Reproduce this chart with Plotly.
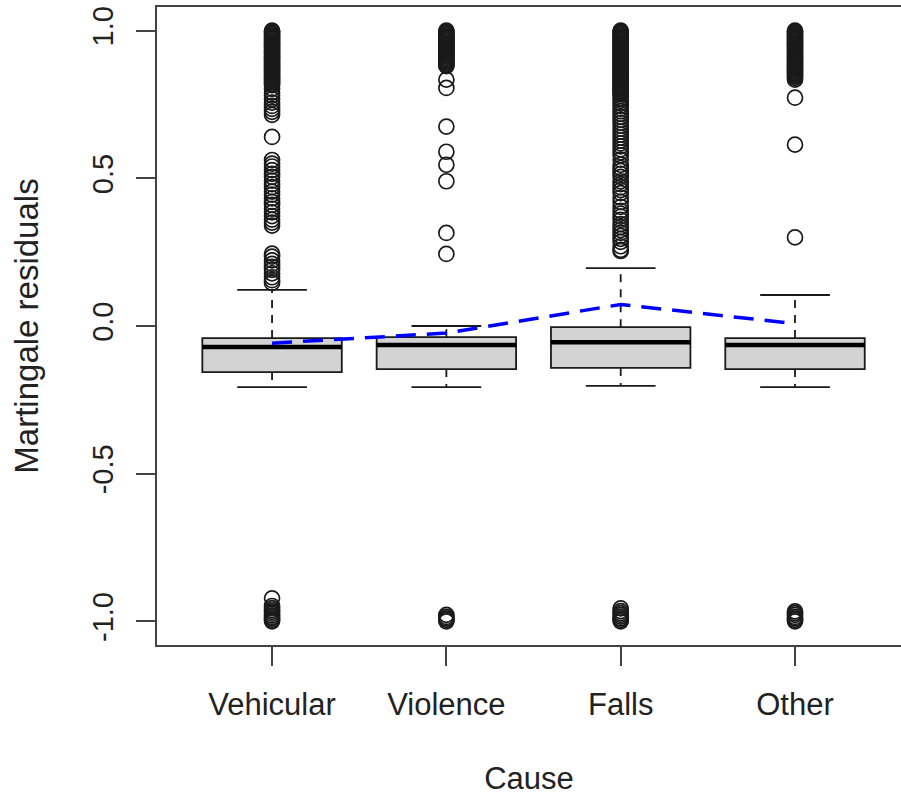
import plotly.graph_objects as go

# ---- data ----
categories = ["Vehicular", "Violence", "Falls", "Other"]
positions = [1, 2, 3, 4]

q1 = [-0.156, -0.146, -0.142, -0.146]
median = [-0.071, -0.064, -0.055, -0.064]
q3 = [-0.041, -0.038, -0.004, -0.041]
lower_whisker = [-0.207, -0.207, -0.203, -0.207]
upper_whisker = [0.122, 0.0, 0.196, 0.105]

group_means = [-0.058, -0.024, 0.073, 0.008]

outliers_vehicular = [
    1.0, 0.996, 0.992, 0.988, 0.984, 0.98, 0.976, 0.972, 0.968, 0.964, 0.96,
    0.956, 0.952, 0.948, 0.944, 0.94, 0.936, 0.932, 0.928, 0.924, 0.92, 0.916,
    0.912, 0.908, 0.904, 0.9, 0.896, 0.892, 0.888, 0.884, 0.88, 0.876, 0.872,
    0.868, 0.864, 0.86, 0.856, 0.852, 0.848, 0.844, 0.84, 0.836, 0.832, 0.828,
    0.824, 0.82, 0.815,
    0.803, 0.79, 0.78, 0.768, 0.756, 0.745, 0.735, 0.725, 0.715,
    0.64,
    0.562, 0.55, 0.54, 0.528, 0.515, 0.505, 0.492, 0.48, 0.47, 0.455, 0.445,
    0.432, 0.42, 0.41, 0.397, 0.385, 0.372, 0.36, 0.35, 0.34,
    0.245, 0.235, 0.222, 0.21, 0.2, 0.19, 0.178, 0.165, 0.155, 0.146,
    -0.922, -0.948, -0.955, -0.962, -0.968, -0.974, -0.98, -0.985, -0.99,
    -0.995, -1.0,
]
outliers_violence = [
    1.0, 0.996, 0.992, 0.988, 0.984, 0.98, 0.976, 0.972, 0.968, 0.964, 0.96,
    0.956, 0.952, 0.948, 0.944, 0.94, 0.936, 0.932, 0.928, 0.924, 0.92, 0.916,
    0.912, 0.908, 0.904, 0.9, 0.896, 0.892, 0.888, 0.884, 0.88,
    0.834, 0.806,
    0.675, 0.59, 0.546, 0.49, 0.315, 0.244,
    -0.978, -0.985, -0.99, -0.995, -1.0,
]
outliers_falls = [
    1.0, 0.996, 0.992, 0.988, 0.984, 0.98, 0.976, 0.972, 0.968, 0.964, 0.96,
    0.956, 0.952, 0.948, 0.944, 0.94, 0.936, 0.932, 0.928, 0.924, 0.92, 0.916,
    0.912, 0.908, 0.904, 0.9, 0.896, 0.892, 0.888, 0.884, 0.88, 0.876, 0.872,
    0.868, 0.864, 0.86, 0.856, 0.852, 0.848, 0.844, 0.84, 0.836, 0.832, 0.828,
    0.824, 0.82, 0.816, 0.812, 0.808, 0.804, 0.8, 0.796, 0.792, 0.788, 0.784,
    0.778,
    0.77, 0.762, 0.753, 0.745, 0.736, 0.727, 0.718, 0.708, 0.698, 0.688,
    0.678, 0.668, 0.658, 0.648, 0.638, 0.628, 0.618, 0.608, 0.598, 0.588,
    0.578, 0.563, 0.546, 0.535, 0.525, 0.515, 0.505, 0.49, 0.48, 0.47, 0.46,
    0.45, 0.435, 0.42, 0.403, 0.39, 0.38, 0.37, 0.359, 0.345, 0.335, 0.325,
    0.315, 0.305, 0.295, 0.285, 0.27, 0.258, 0.254,
    -0.956, -0.965, -0.972, -0.978, -0.984, -0.99, -0.995, -1.0,
]
outliers_other = [
    1.0, 0.996, 0.992, 0.988, 0.984, 0.98, 0.976, 0.972, 0.968, 0.964, 0.96,
    0.956, 0.952, 0.948, 0.944, 0.94, 0.936, 0.932, 0.928, 0.924, 0.92, 0.916,
    0.912, 0.908, 0.904, 0.9, 0.896, 0.892, 0.888, 0.884, 0.88, 0.876, 0.872,
    0.868, 0.864, 0.86, 0.856, 0.852, 0.848, 0.844, 0.84, 0.834,
    0.773, 0.614, 0.30,
    -0.966, -0.972, -0.978, -0.985, -0.99, -0.995, -1.0,
]
outliers = [outliers_vehicular, outliers_violence, outliers_falls, outliers_other]

y_tickvals = [-1.0, -0.5, 0.0, 0.5, 1.0]
y_ticktext = ["-1.0", "-0.5", "0.0", "0.5", "1.0"]

x_title = "Cause"
y_title = "Martingale residuals"

# ---- style ----
BOX_W = 0.8
CAP_W = 0.4
INK = "#1a1a1a"
FONT = "Liberation Sans, Arial, Helvetica, sans-serif"

fig = go.Figure()

for i, pos in enumerate(positions):
    # box body
    fig.add_trace(go.Box(
        x=[pos], q1=[q1[i]], median=[median[i]], q3=[q3[i]],
        lowerfence=[q1[i]], upperfence=[q3[i]],
        width=BOX_W, whiskerwidth=0, boxpoints=False,
        fillcolor="#d3d3d3", line=dict(color=INK, width=1.8),
        hoverinfo="skip", showlegend=False,
    ))
    # thick median
    fig.add_trace(go.Scatter(
        x=[pos - BOX_W / 2, pos + BOX_W / 2], y=[median[i], median[i]],
        mode="lines", line=dict(color="#000000", width=4.5),
        hoverinfo="skip", showlegend=False,
    ))
    # dashed whiskers
    fig.add_trace(go.Scatter(
        x=[pos, pos, None, pos, pos],
        y=[q3[i], upper_whisker[i], None, q1[i], lower_whisker[i]],
        mode="lines", line=dict(color=INK, width=1.8, dash="8px,7px"),
        hoverinfo="skip", showlegend=False,
    ))
    # caps
    fig.add_trace(go.Scatter(
        x=[pos - CAP_W / 2, pos + CAP_W / 2, None, pos - CAP_W / 2, pos + CAP_W / 2],
        y=[upper_whisker[i], upper_whisker[i], None, lower_whisker[i], lower_whisker[i]],
        mode="lines", line=dict(color=INK, width=1.8),
        hoverinfo="skip", showlegend=False,
    ))
    # outliers
    fig.add_trace(go.Scatter(
        x=[pos] * len(outliers[i]), y=outliers[i],
        mode="markers",
        marker=dict(symbol="circle-open", size=15, color=INK, line=dict(width=1.7)),
        hoverinfo="skip", showlegend=False,
    ))

# group means line
fig.add_trace(go.Scatter(
    x=positions, y=group_means, mode="lines",
    line=dict(color="#0000ff", width=3.5, dash="20px,11px"),
    hoverinfo="skip", showlegend=False,
))

fig.update_layout(
    width=901, height=796,
    margin=dict(l=157, r=0, t=7, b=151),
    paper_bgcolor="white", plot_bgcolor="white",
    font=dict(family=FONT, size=30, color="#222222"),
    showlegend=False,
)
fig.update_xaxes(
    range=[0.34, 4.608], tickvals=positions, ticktext=categories,
    showgrid=False, zeroline=False,
    showline=True, linecolor="#444444", linewidth=1.8, mirror=True,
    ticks="outside", ticklen=19, tickwidth=1.6, tickcolor="#444444",
    tickfont=dict(size=31), ticklabelstandoff=12,
    title=dict(text=x_title, font=dict(size=31), standoff=46),
)
fig.update_yaxes(
    range=[-1.08, 1.08], tickvals=y_tickvals, ticktext=y_ticktext,
    tickangle=-90,
    showgrid=False, zeroline=False,
    showline=True, linecolor="#444444", linewidth=1.8,
    ticks="outside", ticklen=19, tickwidth=1.6, tickcolor="#444444",
    tickfont=dict(size=29), ticklabelstandoff=12,
    title=dict(text=y_title, font=dict(size=33), standoff=38),
)

fig.write_html(
    "out.html",
    config={"displayModeBar": False},
    post_script="document.body.style.margin='0';document.body.style.overflow='hidden';",
)
